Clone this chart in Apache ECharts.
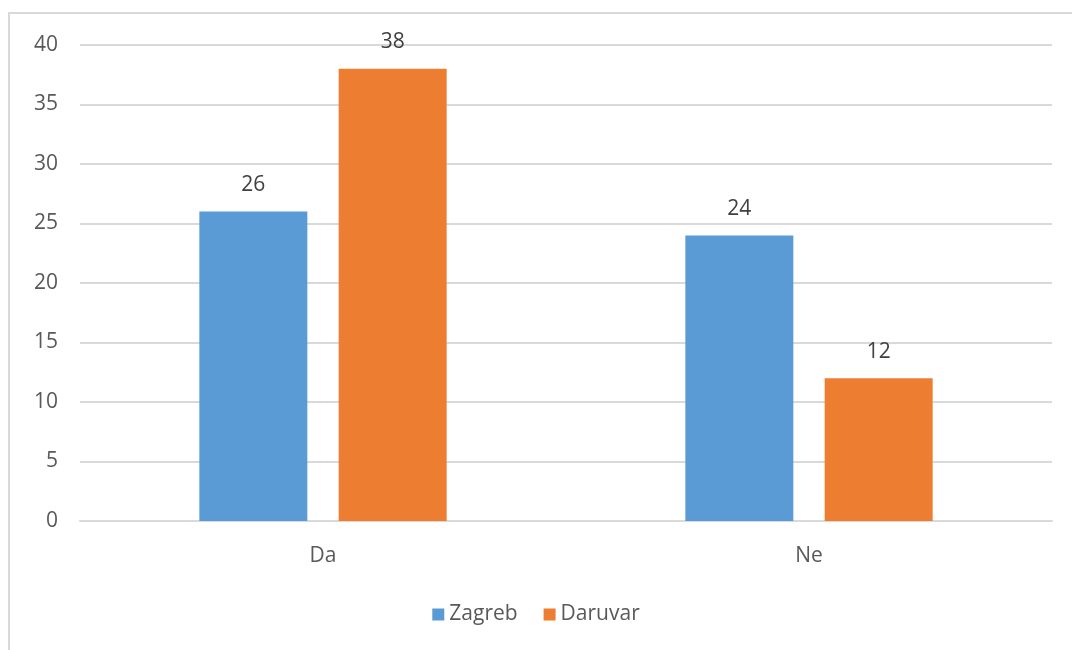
<!DOCTYPE html>
<html>
<head>
<meta charset="utf-8">
<script src="https://cdn.jsdelivr.net/npm/echarts@6/dist/echarts.min.js"></script>
<style>
  html, body { margin: 0; padding: 0; background: #fff; }
  #frame {
    position: absolute; left: 8px; top: 12px; width: 1080px; height: 660px;
    border: 2px solid #d9d9d9; box-sizing: border-box;
  }
  #chart { position: absolute; left: 0; top: 0; width: 1072px; height: 650px; }
</style>
</head>
<body>
<div id="frame"></div>
<div id="chart"></div>
<script>
// categories and series values
const categories = ['Da', 'Ne'];
const zagreb = [26, 24];
const daruvar = [38, 12];

const myChart = echarts.init(document.getElementById('chart'));
const textFont = 'Open Sans';

const option = {
  animation: false,
  textStyle: { fontFamily: textFont },
  grid: { left: 80, right: 20, top: 45, bottom: 129 },
  legend: {
    bottom: 20,
    left: 'center',
    itemWidth: 12,
    itemHeight: 12,
    itemGap: 26,
    icon: 'rect',
    textStyle: { color: '#595959', fontSize: 21, fontFamily: textFont },
    data: ['Zagreb', 'Daruvar']
  },
  xAxis: {
    type: 'category',
    data: categories,
    axisLine: { lineStyle: { color: '#d9d9d9', width: 2 } },
    axisTick: { show: false },
    axisLabel: { color: '#595959', fontSize: 21, margin: 25 }
  },
  yAxis: {
    type: 'value',
    min: 0,
    max: 40,
    interval: 5,
    axisLine: { show: false },
    axisTick: { show: false },
    axisLabel: { color: '#595959', fontSize: 21, margin: 22 },
    splitLine: { lineStyle: { color: '#d9d9d9', width: 2 } }
  },
  series: [
    {
      name: 'Zagreb',
      type: 'bar',
      data: zagreb,
      barWidth: 108,
      barGap: '29%',
      itemStyle: { color: '#5b9bd5' },
      label: { show: true, position: 'top', distance: 16, color: '#404040', fontSize: 21 }
    },
    {
      name: 'Daruvar',
      type: 'bar',
      data: daruvar,
      barWidth: 108,
      itemStyle: { color: '#ed7d31' },
      label: { show: true, position: 'top', distance: 16, color: '#404040', fontSize: 21 }
    }
  ]
};
myChart.setOption(option);
</script>
</body>
</html>
